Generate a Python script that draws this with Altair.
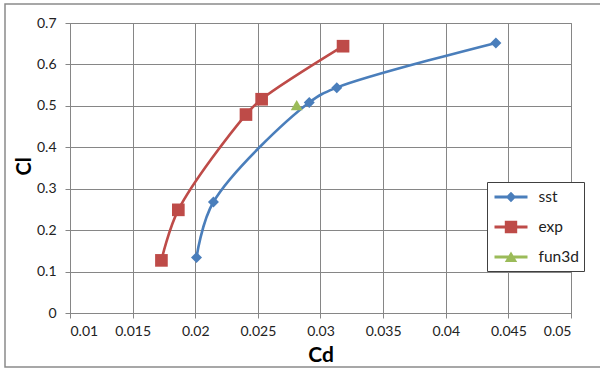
import altair as alt
import pandas as pd

# Series definitions
series_names = ["sst", "exp", "fun3d"]
series_colors = ["#4A7EBB", "#BE4B48", "#9BBB59"]
series_markers = ["diamond", "square", "triangle-up"]
marker_sizes = [121, 160, 140]

# Drag coefficient (Cd) vs lift coefficient (Cl)
sst_cd = [0.0201, 0.02145, 0.0291, 0.0313, 0.0440]
sst_cl = [0.134, 0.268, 0.508, 0.544, 0.652]

exp_cd = [0.0173, 0.01865, 0.02405, 0.0253, 0.0318]
exp_cl = [0.127, 0.249, 0.479, 0.516, 0.644]

fun3d_cd = [0.0281]
fun3d_cl = [0.502]

x_ticks = [0.01, 0.015, 0.02, 0.025, 0.03, 0.035, 0.04, 0.045, 0.05]
y_ticks = [0, 0.1, 0.2, 0.3, 0.4, 0.5, 0.6, 0.7]

# Legend glyphs: a short line segment with the series marker on top
legend_paths = [
    "M-1.65,-0.15L1.65,-0.15L1.65,0.15L-1.65,0.15Z M0,-0.52L0.52,0L0,0.52L-0.52,0Z",
    "M-1.65,-0.15L1.65,-0.15L1.65,0.15L-1.65,0.15Z M-0.62,-0.62L0.62,-0.62L0.62,0.62L-0.62,0.62Z",
    "M-1.65,-0.15L1.65,-0.15L1.65,0.15L-1.65,0.15Z M0,-0.55L0.62,0.5L-0.62,0.5Z",
]

rows = []
for name, color, marker, msize, cds, cls in zip(
    series_names, series_colors, series_markers, marker_sizes,
    [sst_cd, exp_cd, fun3d_cd], [sst_cl, exp_cl, fun3d_cl],
):
    for i, (cd, cl) in enumerate(zip(cds, cls)):
        rows.append(dict(series=name, color=color, marker=marker,
                         msize=msize, idx=i, cd=cd, cl=cl))
df = pd.DataFrame(rows)

GRID = "#868686"
FONT = "Lato"

x_enc = alt.X(
    "cd:Q",
    scale=alt.Scale(domain=[0.01, 0.05], nice=False, zero=False),
    axis=alt.Axis(values=x_ticks, format="~g", title="Cd", labelPadding=6,
                  titleFontSize=21, titleY=48, titleBaseline="alphabetic"),
)
y_enc = alt.Y(
    "cl:Q",
    scale=alt.Scale(domain=[0, 0.7], nice=False),
    axis=alt.Axis(values=y_ticks, format="~g", title="Cl", labelPadding=9,
                  titleFontSize=20, titleX=-40, titleY=143,
                  titleBaseline="alphabetic", titleAlign="center"),
)

frame = alt.Chart(pd.DataFrame({"k": [0]})).mark_rect(
    fillOpacity=0, stroke="#8a8a8a", strokeWidth=1.5
).encode(
    x=alt.value(-65), x2=alt.value(540), y=alt.value(-19), y2=alt.value(344)
)

lines = alt.Chart(df).mark_line(interpolate="catmull-rom", strokeWidth=2.6).encode(
    x=x_enc,
    y=y_enc,
    color=alt.Color("color:N", scale=None),
    detail="series:N",
    order="idx:Q",
)

points = alt.Chart(df).mark_point(filled=True, opacity=1, strokeWidth=0).encode(
    x=x_enc,
    y=y_enc,
    color=alt.Color("color:N", scale=None),
    shape=alt.Shape("marker:N", scale=None),
    size=alt.Size("msize:Q", scale=None),
)

leg = alt.Legend(
    title=None, orient="none", legendX=417, legendY=159,
    padding=5, rowPadding=11, symbolSize=400, symbolStrokeWidth=0,
    symbolOffset=9, labelOffset=17.5, labelFont=FONT, labelFontSize=15.5,
    labelColor="#222", strokeColor="#404040", fillColor="white",
)

legend_layer = alt.Chart(df).transform_filter("false").mark_point(
    filled=True, opacity=1, size=400
).encode(
    color=alt.Color("series:N", scale=alt.Scale(domain=series_names, range=series_colors), legend=leg),
    shape=alt.Shape("series:N", scale=alt.Scale(domain=series_names, range=legend_paths), legend=leg),
)

chart = alt.layer(frame, lines, points, legend_layer).properties(
    width=501,
    height=290,
    autosize=alt.AutoSizeParams(type="none"),
    padding={"left": 70, "top": 23, "right": 29, "bottom": 56},
    background="white",
).configure_view(
    stroke=GRID, strokeWidth=1
).configure_axis(
    gridColor=GRID, gridWidth=1, domainColor=GRID, tickColor=GRID, tickSize=5,
    labelFont=FONT, labelFontSize=14, labelColor="#222",
    titleFont=FONT, titleFontWeight="bold", titleColor="#000",
)

chart.save("out.html", embed_options={"renderer": "svg", "actions": False})
